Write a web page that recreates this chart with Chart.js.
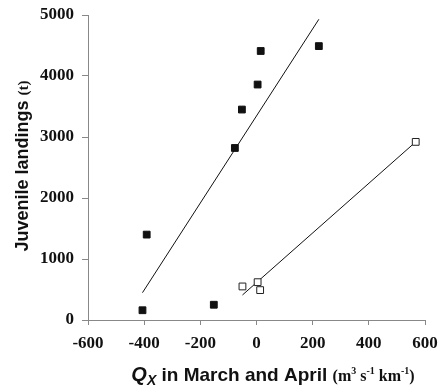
<!DOCTYPE html>
<html>
<head>
<meta charset="utf-8">
<script src="https://cdn.jsdelivr.net/npm/chart.js@4.4.1/dist/chart.umd.min.js"></script>
<style>
html,body{margin:0;padding:0;background:#fff;}
#wrap{width:438px;height:388px;position:relative;}
</style>
</head>
<body>
<div id="wrap"><canvas id="c" width="438" height="388"></canvas></div>
<script>
// Filled squares (juvenile landings vs Qx)
const filledX = [-406, -391, -152, -77, -52, 4, 15, 222];
const filledY = [160, 1400, 250, 2820, 3450, 3860, 4410, 4490];
// Open squares
const openX = [-50, 4, 13, 567];
const openY = [550, 620, 490, 2920];
// Fitted lines (endpoints)
const fitFilledX = [-406, 222];
const fitFilledY = [448, 4930];
const fitOpenX = [-50, 567];
const fitOpenY = [410, 2920];
// Ticks
const xTicks = [-600, -400, -200, 0, 200, 400, 600];
const yTicks = [0, 1000, 2000, 3000, 4000, 5000];

const pts = (xs, ys) => xs.map((x, i) => ({x: x, y: ys[i]}));

const titlePlugin = {
  id: 'titles',
  afterDraw(chart) {
    const ctx = chart.ctx;
    ctx.save();
    ctx.fillStyle = '#111';
    ctx.textBaseline = 'alphabetic';
    // Y title
    ctx.save();
    ctx.translate(28, 166);
    ctx.rotate(-Math.PI / 2);
    const f1 = 'bold 18px "Liberation Sans", Arial, sans-serif';
    const f2 = 'bold 15px "Liberation Serif", "Times New Roman", serif';
    ctx.font = f1; const w1 = ctx.measureText('Juvenile landings ').width;
    ctx.font = f2; const w2 = ctx.measureText('(t)').width;
    let sx = -(w1 + w2) / 2;
    ctx.font = f1; ctx.fillText('Juvenile landings ', sx, 0);
    ctx.font = f2; ctx.fillText('(t)', sx + w1, 0);
    ctx.restore();
    // X title
    const parts = [
      {t: 'Q', f: 'italic bold 20px "Liberation Sans", Arial, sans-serif', dy: 0},
      {t: 'X', f: 'italic bold 14px "Liberation Sans", Arial, sans-serif', dy: 4},
      {t: ' in March and April ', f: 'bold 19px "Liberation Sans", Arial, sans-serif', dy: 0},
      {t: '(m', f: 'bold 16px "Liberation Serif", serif', dy: 0},
      {t: '3', f: 'bold 10px "Liberation Serif", serif', dy: -7},
      {t: ' s', f: 'bold 16px "Liberation Serif", serif', dy: 0},
      {t: '-1', f: 'bold 10px "Liberation Serif", serif', dy: -7},
      {t: ' km', f: 'bold 16px "Liberation Serif", serif', dy: 0},
      {t: '-1', f: 'bold 10px "Liberation Serif", serif', dy: -7},
      {t: ')', f: 'bold 16px "Liberation Serif", serif', dy: 0}
    ];
    let total = 0;
    parts.forEach(p => { ctx.font = p.f; p.w = ctx.measureText(p.t).width; total += p.w; });
    let x = 273 - total / 2;
    parts.forEach(p => { ctx.font = p.f; ctx.fillText(p.t, x, 381 + p.dy); x += p.w; });
    ctx.restore();
  }
};

const tickFont = {family: '"Liberation Serif", "Times New Roman", serif', weight: 'bold', size: 17};

new Chart(document.getElementById('c'), {
  type: 'scatter',
  data: {
    datasets: [
      {data: pts(filledX, filledY), pointStyle: 'rect', pointRadius: 4.8, backgroundColor: '#111', borderColor: '#111', borderWidth: 1, showLine: false},
      {data: pts(openX, openY), pointStyle: 'rect', pointRadius: 4.8, backgroundColor: '#fff', borderColor: '#222', borderWidth: 1, showLine: false},
      {data: pts(fitFilledX, fitFilledY), showLine: true, pointRadius: 0, borderColor: '#111', borderWidth: 1, fill: false},
      {data: pts(fitOpenX, fitOpenY), showLine: true, pointRadius: 0, borderColor: '#111', borderWidth: 1, fill: false}
    ]
  },
  options: {
    responsive: false,
    animation: false,
    devicePixelRatio: 1,
    layout: {padding: {top: 15, right: 13, left: 0, bottom: 0}},
    plugins: {legend: {display: false}, tooltip: {enabled: false}},
    scales: {
      x: {
        type: 'linear', min: -600, max: 600,
        afterBuildTicks(s) { s.ticks = xTicks.map(v => ({value: v})); },
        afterFit(s) { s.height = 68; s.paddingLeft = 0; s.paddingRight = 0; },
        grid: {drawOnChartArea: false, drawTicks: true, tickLength: 5, color: '#888'},
        border: {display: true, color: '#888', width: 1},
        ticks: {color: '#111', padding: 8, maxRotation: 0, font: tickFont, callback: v => String(v)}
      },
      y: {
        type: 'linear', min: 0, max: 5000,
        afterBuildTicks(s) { s.ticks = yTicks.map(v => ({value: v})); },
        afterFit(s) { s.width = 88; s.paddingTop = 0; s.paddingBottom = 0; },
        grid: {drawOnChartArea: false, drawTicks: true, tickLength: 6, color: '#888'},
        border: {display: true, color: '#888', width: 1},
        ticks: {color: '#111', padding: 8, font: tickFont, callback: v => String(v)}
      }
    }
  },
  plugins: [titlePlugin]
});
</script>
</body>
</html>
